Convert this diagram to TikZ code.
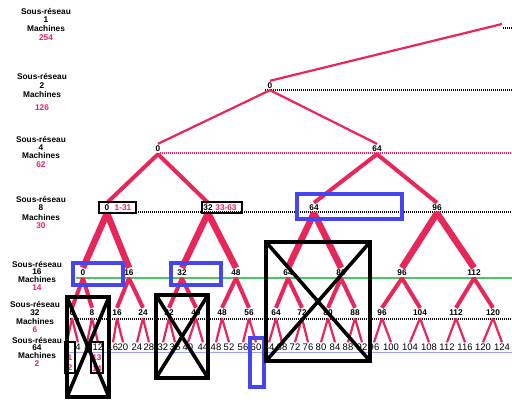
\documentclass[tikz,border=0pt]{standalone}
\usepackage{fontspec}
\setmainfont{Liberation Sans}
\definecolor{tred}{RGB}{232,38,90}
\definecolor{tblue}{RGB}{70,70,240}
\definecolor{tgreen}{RGB}{70,200,100}
\definecolor{tlblue}{RGB}{160,160,240}
\newcommand\sublabel[8]{%
  \node[leftlab] (#1a) at (#2,#3) {Sous-réseau};
  \node[leftlab] (#1b) at (#2,#4) {#7};
  \node[leftlab] (#1c) at (#2,#5) {Machines};
  \node[leftlab,text=tred] (#1d) at (#2,#6) {#8};}
\begin{document}
\begin{tikzpicture}[x=1pt,y=-1pt,
  lab/.style={font=\fontsize{8.3}{9}\selectfont\bfseries, inner sep=0pt, text height=6pt, text depth=0pt},
  leftlab/.style={lab},
  tn/.style={lab, inner sep=1pt},
  rlab/.style={lab, text=tred},
  bn/.style={font=\fontsize{9.5}{10}\selectfont, inner sep=1pt, text height=7pt, text depth=0pt},
  edgeA/.style={tred, line width=2.2pt},
  edgeB/.style={tred, line width=4pt, line join=bevel},
  edgeC/.style={tred, line width=6.5pt, line join=bevel},
  edgeD/.style={tred, line width=4pt, line join=bevel},
  edgeE/.style={tred, line width=2.2pt, line join=bevel},
  blackdots/.style={black, line width=1.1pt, dash pattern=on 1pt off 1pt},
  reddots/.style={tred, line width=1.1pt, dash pattern=on 1pt off 1pt},
  bluebox/.style={tblue, line width=3.2pt},
  crossbox/.style={black, line width=3.6pt},
  thinbox/.style={black, line width=1.7pt}]
\useasboundingbox (0,0) rectangle (512,407);

% level lines
\draw[blackdots] (503,28) -- (512,28);
\draw[blackdots] (265,90) -- (512,90);
\draw[reddots] (160,153) -- (512,153);
\draw[blackdots] (136,212) -- (512,212);
\draw[tgreen, line width=1.3pt] (76,278) -- (512,278);
\draw[blackdots] (68,319) -- (512,319);
\draw[tlblue, line width=0.9pt] (64,352) -- (512,352);

% left labels
\sublabel{La}{46}{11}{19}{28}{37}{1}{254}
\sublabel{Lb}{42}{76}{85}{94}{107}{2}{126}
\sublabel{Lc}{41}{139}{147}{155}{164}{4}{62}
\sublabel{Ld}{41}{199}{207}{217}{225}{8}{30}
\sublabel{Le}{37}{264}{271}{279}{287}{16}{14}
\sublabel{Lf}{35}{304}{312}{321}{329}{32}{6}
\sublabel{Lg}{37}{340}{347}{355}{363}{64}{2}

% tree nodes
\coordinate (root) at (502,24);
\node[tn] (t0) at (270,85) {0};
\node[tn] (f0) at (158,148) {0};
\node[tn] (f64) at (377,148) {64};
\node[tn] (e0) at (107,207) {0};
\node[tn] (e32) at (208,207) {32};
\node[tn] (e64) at (314,207) {64};
\node[tn] (e96) at (437,207) {96};
\node[rlab] (r1) at (123,207) {1-31};
\node[rlab] (r2) at (226,207) {33-63};
\foreach \v/\x in {0/83,16/129,32/182,48/236,64/288,80/341,96/402,112/474}
  \node[tn] (s\v) at (\x,272) {\v};
\foreach \v/\x in {0/72,8/92,16/117,24/143,32/169,40/196,48/222,56/249,64/276,72/302,80/328,88/355,96/382,104/420,112/456,120/493}
  \node[tn] (m\v) at (\x,312) {\v};
\foreach \v/\x in {0/67,4/78,8/87,12/98,16/113,20/123,24/137,28/149,32/163,36/175,40/188,44/203,48/216,52/229,56/243,60/256,64/269,68/282,72/295,76/308,80/321,84/335,88/348,92/362,96/374,100/391,104/410,108/429,112/447,116/465,120/483,124/502}
  \node[bn] (b\v) at (\x,347) {\v};
\node[rlab] (x1) at (70,357) {1};
\node[rlab] (x2) at (70,367) {2};
\node[rlab] (x13) at (97,357) {13};
\node[rlab] (x14) at (97,368) {14};

% connectors
\draw[edgeA] (t0.north) -- (root);
\draw[edgeA] (f0.north) -- ([yshift=-1pt]t0.south) -- (f64.north);
\draw[edgeB] (e0.north) -- ([yshift=-2pt]f0.south) -- (e32.north);
\draw[edgeB] (e64.north) -- ([yshift=-2pt]f64.south) -- (e96.north);
\foreach \p in {0,32,64,96}{
  \pgfmathtruncatemacro\q{\p+16}
  \draw[edgeC] (s\p.north) -- ([yshift=-2pt]e\p.south) -- (s\q.north);}
\foreach \p in {0,16,32,48,64,80,96,112}{
  \pgfmathtruncatemacro\q{\p+8}
  \draw[edgeD] (m\p.north) -- ([yshift=-2pt]s\p.south) -- (m\q.north);}
\foreach \p in {0,8,16,24,32,40,48,56,64,72,80,88,96,104,112,120}{
  \pgfmathtruncatemacro\q{\p+4}
  \draw[edgeE] (b\p.north) -- ([yshift=-2pt]m\p.south) -- (b\q.north);}

% boxes on level 8 and bottom
\draw[thinbox] (99,202) rectangle (136,213);
\draw[thinbox] (202,202) rectangle (242,213);
\draw[thinbox] (65,342) rectangle (75,373);
\draw[thinbox] (91,342) rectangle (103,373);

% blue frames
\draw[bluebox] (73,263) rectangle (123,285);
\draw[bluebox] (171,263) rectangle (221,285);
\draw[bluebox] (297,194) rectangle (402,219);
\draw[bluebox] (250,338) rectangle (264,387);

% crossed frames
\draw[crossbox] (67,297) rectangle (109,397);
\draw[crossbox] (67,297) -- (109,397) (109,297) -- (67,397);
\draw[crossbox] (156,295) rectangle (208,378);
\draw[crossbox] (156,295) -- (208,378) (208,295) -- (156,378);
\draw[crossbox] (266,242) rectangle (370,361);
\draw[crossbox] (266,242) -- (370,361) (370,242) -- (266,361);
\end{tikzpicture}
\end{document}
